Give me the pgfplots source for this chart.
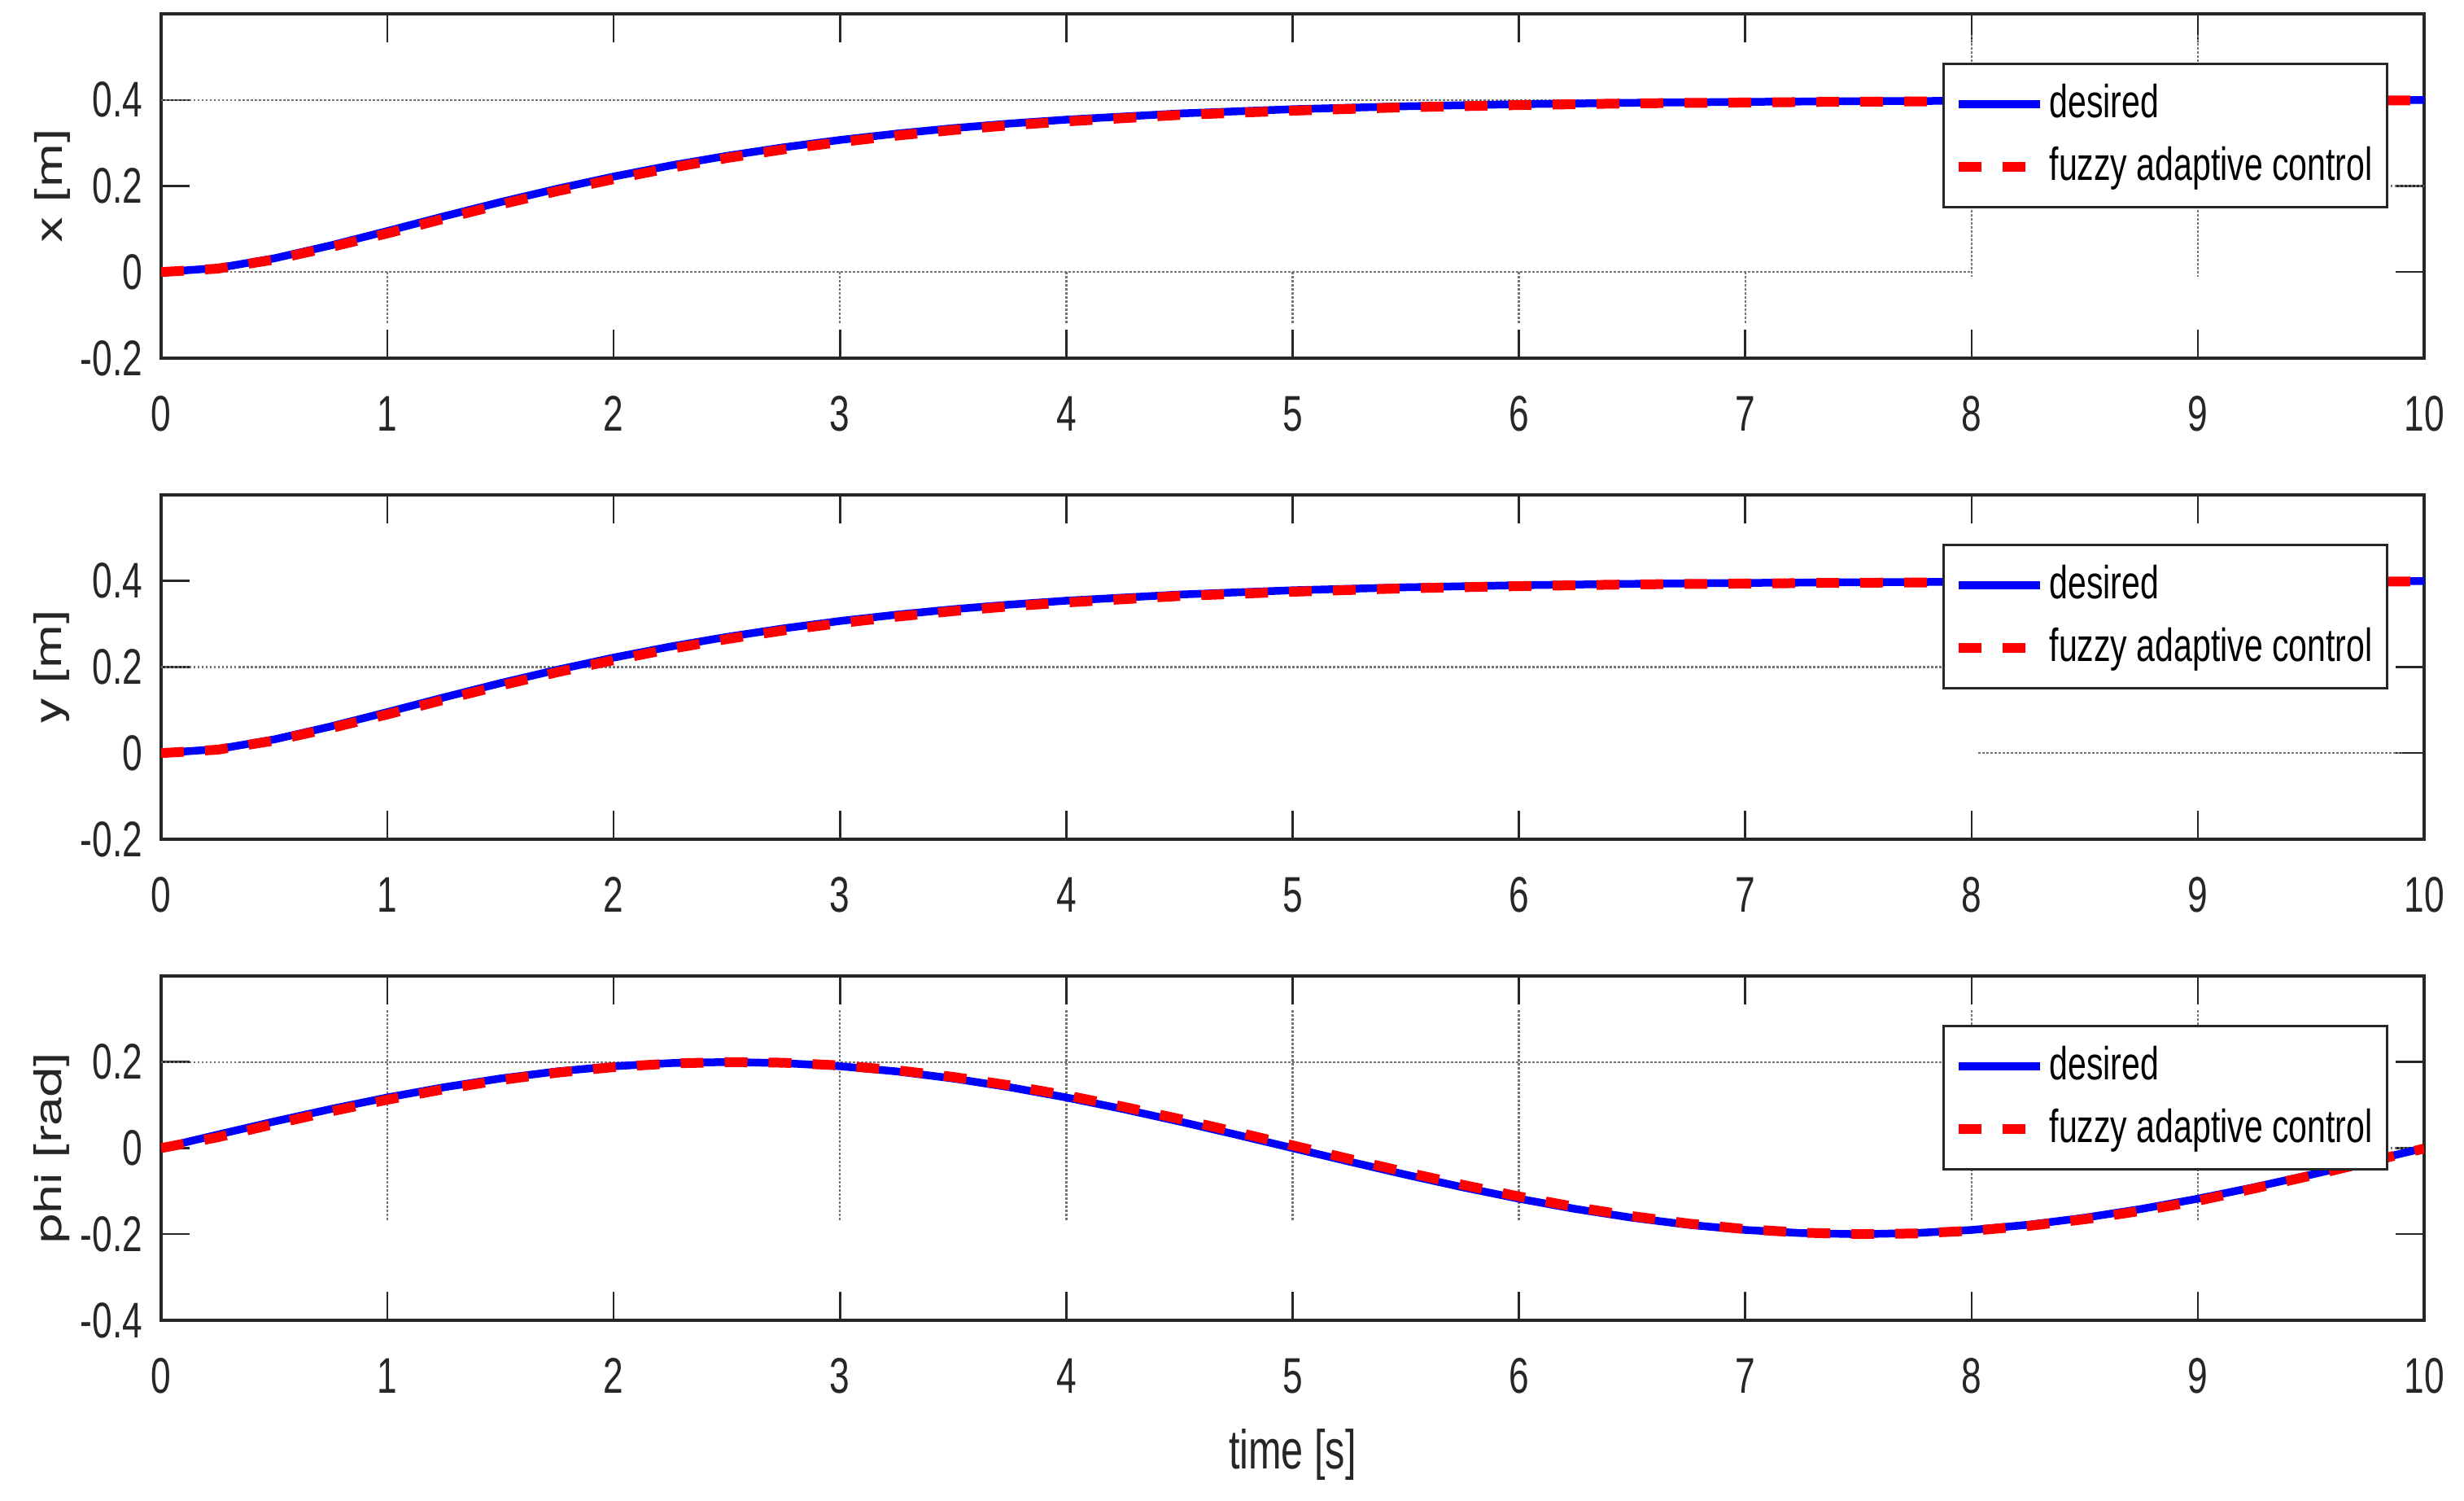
\documentclass[border=0pt]{standalone}
\usepackage{fontspec}
\setmainfont[FakeStretch=0.72]{Liberation Sans}
\newfontfamily\labfont{TeX Gyre Heros}
\usepackage{graphicx}
\usepackage{pgfplots}
\usepackage{pgfplotstable}
\pgfplotsset{compat=1.18}

\definecolor{axc}{HTML}{262626}
\definecolor{mblue}{RGB}{0,0,255}
\definecolor{mred}{RGB}{255,0,0}

% x and y trajectories (same reference), desired vs fuzzy adaptive control
\pgfplotstableread{
t des fuz
0 0 0
0.25 0.0093 0.008
0.5 0.0319 0.029
0.75 0.0620 0.058
1 0.0954 0.090
1.25 0.1296 0.124
1.5 0.1627 0.157
1.75 0.1936 0.188
2 0.2220 0.216
2.25 0.2475 0.242
2.5 0.2700 0.265
2.75 0.2898 0.285
3 0.3070 0.302
3.25 0.3217 0.317
3.5 0.3344 0.330
3.75 0.3451 0.341
4 0.3542 0.350
4.5 0.3685 0.365
5 0.3784 0.375
5.5 0.3853 0.383
6 0.3901 0.388
6.5 0.3933 0.392
7 0.3955 0.394
7.5 0.3970 0.396
8 0.3980 0.397
8.5 0.3987 0.398
9 0.3991 0.399
9.5 0.3994 0.399
10 0.3996 0.399
}\xdat

\pgfplotstableread{
t des fuz
0 0 0
0.25 0.0313 0.0251
0.5 0.0618 0.0558
0.75 0.0908 0.0852
1 0.1176 0.1124
1.25 0.1414 0.1369
1.5 0.1618 0.1580
1.75 0.1782 0.1753
2 0.1902 0.1882
2.25 0.1975 0.1965
2.5 0.2000 0.1999
2.75 0.1975 0.1984
3 0.1902 0.1921
3.25 0.1782 0.1810
3.5 0.1618 0.1654
3.75 0.1414 0.1458
4 0.1176 0.1226
4.25 0.0908 0.0964
4.5 0.0618 0.0677
4.75 0.0313 0.0375
5 0 0.0063
5.25 -0.0313 -0.0251
5.5 -0.0618 -0.0558
5.75 -0.0908 -0.0852
6 -0.1176 -0.1124
6.25 -0.1414 -0.1369
6.5 -0.1618 -0.1580
6.75 -0.1782 -0.1753
7 -0.1902 -0.1882
7.25 -0.1975 -0.1965
7.5 -0.2000 -0.1999
7.75 -0.1975 -0.1984
8 -0.1902 -0.1921
8.25 -0.1782 -0.1810
8.5 -0.1618 -0.1654
8.75 -0.1414 -0.1458
9 -0.1176 -0.1226
9.25 -0.0908 -0.0938
9.5 -0.0618 -0.0640
9.75 -0.0313 -0.0330
10 0 -0.0010
}\phidat

\pgfplotsset{
  panel/.style={
    width=556.2pt, height=84.6pt, scale only axis,
    xmin=0, xmax=10, xtick={0,...,10},
    axis line style={draw=axc, line width=0.7pt},
    tick style={draw=axc, line width=0.5pt},
    tick align=inside, tick pos=both,
    xticklabel pos=lower, yticklabel pos=left,
    major tick length=7pt,
    /pgf/number format/assume math mode=true,
    xticklabel style={font=\fontsize{12.3}{13}\selectfont, text=axc, inner sep=0pt, yshift=-9.2pt},
    yticklabel style={font=\fontsize{12.3}{13}\selectfont, text=axc, inner sep=0pt, xshift=-4.4pt},
    every axis y label/.style={at={(axis description cs:-0.0482,0.5)}, rotate=90, anchor=center,
      font=\labfont\fontsize{13}{14}\selectfont, text=axc},
    every axis x label/.style={at={(axis description cs:0.5,0)}, anchor=north, yshift=-26.6pt,
      inner sep=0pt, font=\fontsize{13.5}{14}\selectfont, text=axc},
    legend style={at={(0.9842,0.8582)}, anchor=north east,
      draw=axc, line width=0.6pt, fill=white,
      inner xsep=2.4pt, inner ysep=3pt, row sep=1.6pt,
      font=\fontsize{11.4}{12}\selectfont, text=black,
      nodes={inner xsep=1.2pt, inner ysep=2pt}},
    legend cell align=left,
    legend image code/.code={\draw[##1] (0pt,0pt) -- (20pt,0pt);},
  },
  des/.style={mblue, line width=1.9pt},
  fuz/.style={mred, line width=2.4pt, dash pattern=on 5.6pt off 5.2pt},
  gridl/.style={draw=black!55, line width=0.45pt, dash pattern=on 0.5pt off 0.5pt, forget plot},
}

\begin{document}
\begin{tikzpicture}

\begin{axis}[panel, name=ax1,
  ymin=-0.2, ymax=0.6, ytick={-0.2,0,0.2,0.4}, yticklabels={-0.2,0,0.2,0.4},
  ylabel={\scalebox{1}[0.72]{x [m]}}]
\addplot[gridl] coordinates {(0,0.4) (10,0.4)};
\addplot[gridl] coordinates {(0,0) (8,0)};
\addplot[gridl] coordinates {(8,0.2) (10,0.2)};
\addplot[gridl] coordinates {(1,0) (1,-0.12)};
\addplot[gridl] coordinates {(3,0) (3,-0.12)};
\addplot[gridl] coordinates {(4,0) (4,-0.12)};
\addplot[gridl] coordinates {(5,0) (5,-0.12)};
\addplot[gridl] coordinates {(6,0) (6,-0.12)};
\addplot[gridl] coordinates {(7,0) (7,-0.12)};
\addplot[gridl] coordinates {(8,0.55) (8,-0.01)};
\addplot[gridl] coordinates {(9,0.55) (9,-0.01)};
\addplot[des] table[x=t, y=des] {\xdat};
\addplot[fuz] table[x=t, y=fuz] {\xdat};
\legend{desired, fuzzy adaptive control}
\end{axis}

\begin{axis}[panel, name=ax2, at={(ax1.south west)}, anchor=north west, yshift=-33.6pt,
  ymin=-0.2, ymax=0.6, ytick={-0.2,0,0.2,0.4}, yticklabels={-0.2,0,0.2,0.4},
  ylabel={\scalebox{1}[0.72]{y [m]}}]
\addplot[gridl] coordinates {(0,0.2) (7.95,0.2)};
\addplot[gridl] coordinates {(8.03,0) (9.9,0)};
\addplot[des] table[x=t, y=des] {\xdat};
\addplot[fuz] table[x=t, y=fuz] {\xdat};
\legend{desired, fuzzy adaptive control}
\end{axis}

\begin{axis}[panel, name=ax3, at={(ax2.south west)}, anchor=north west, yshift=-33.6pt,
  ymin=-0.4, ymax=0.4, ytick={-0.4,-0.2,0,0.2}, yticklabels={-0.4,-0.2,0,0.2},
  ylabel={\scalebox{1}[0.72]{phi [rad]}}, xlabel={time [s]}]
\addplot[gridl] coordinates {(0,0.2) (8,0.2)};
\addplot[gridl] coordinates {(8,0) (10,0)};
\addplot[gridl] coordinates {(1,0.32) (1,-0.17)};
\addplot[gridl] coordinates {(3,0.32) (3,-0.17)};
\addplot[gridl] coordinates {(4,0.32) (4,-0.17)};
\addplot[gridl] coordinates {(5,0.32) (5,-0.17)};
\addplot[gridl] coordinates {(6,0.32) (6,-0.17)};
\addplot[gridl] coordinates {(8,0.32) (8,-0.17)};
\addplot[gridl] coordinates {(9,0.32) (9,-0.17)};
\addplot[des] table[x=t, y=des] {\phidat};
\addplot[fuz] table[x=t, y=fuz] {\phidat};
\legend{desired, fuzzy adaptive control}
\end{axis}

% page margins as in the reference
\path (ax1.north west) ++(-39.6pt,3.4pt);
\path (ax3.south east) ++(9.8pt,-44.4pt);
\end{tikzpicture}
\end{document}
